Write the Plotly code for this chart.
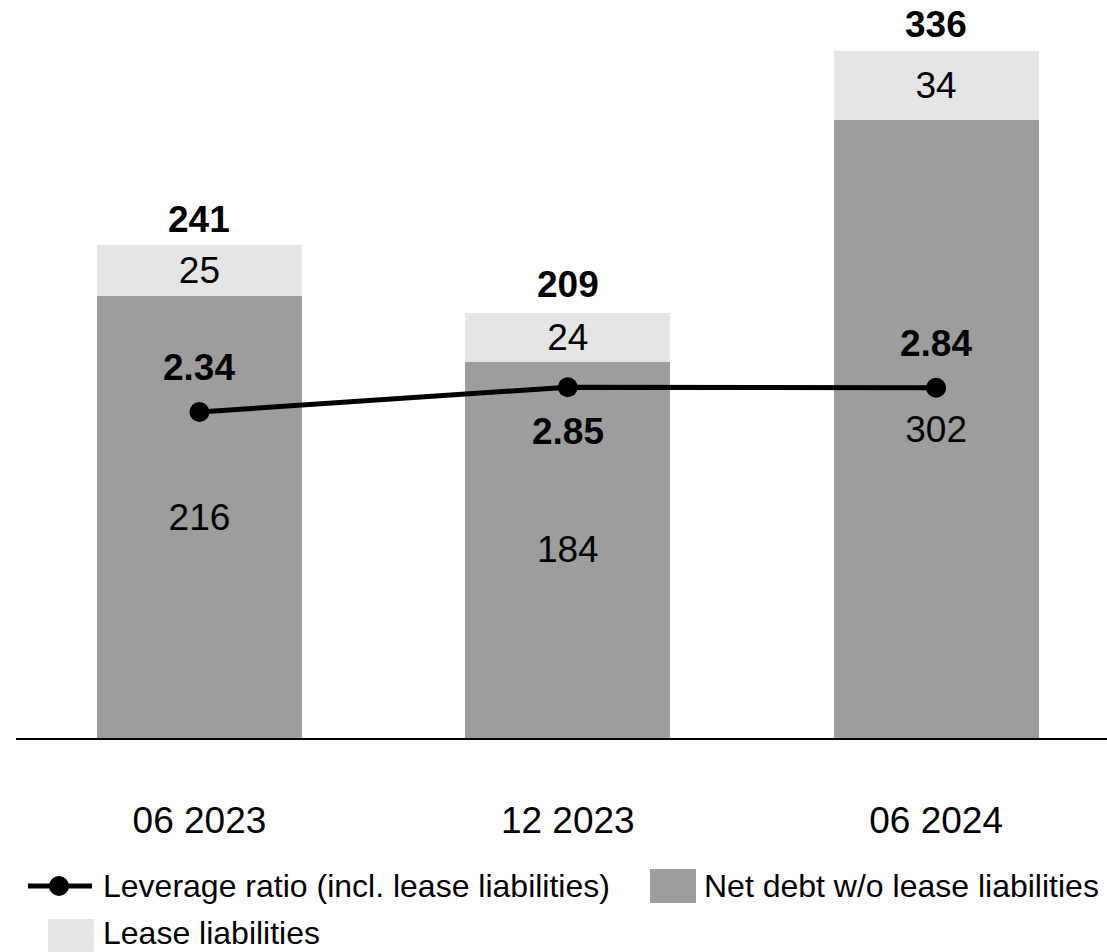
import plotly.graph_objects as go

# Net debt composition and leverage ratio by reporting date
periods = ["06 2023", "12 2023", "06 2024"]
net_debt_wo_lease = [216, 184, 302]
lease_liabilities = [25, 24, 34]
total_net_debt = [241, 209, 336]
leverage_ratio = [2.34, 2.85, 2.84]

# label placement for the leverage ratio: +1 above the point, -1 below
lev_label_side = [1, -1, 1]

DARK = "#9d9d9d"
LIGHT = "#e5e5e5"
FONT = "Arial, Liberation Sans, sans-serif"
FS = 37
LEG_FS = 32

W, H = 1107, 952
ML, MR, MT, MB = 16, 0, 0, 214
PW, PH = W - ML - MR, H - MT - MB


def px(xpix):
    return (xpix - ML) / PW


def py(ypix):
    return (H - MB - ypix) / PH


fig = go.Figure()

fig.add_trace(go.Bar(
    x=periods, y=net_debt_wo_lease, name="Net debt w/o lease liabilities",
    marker=dict(color=DARK, line=dict(width=0)),
    text=net_debt_wo_lease, texttemplate="%{text}", textposition="inside",
    insidetextanchor="middle", constraintext="none",
    textfont=dict(family=FONT, size=FS, color="black"),
    showlegend=False, hoverinfo="skip",
))
fig.add_trace(go.Bar(
    x=periods, y=lease_liabilities, name="Lease liabilities",
    marker=dict(color=LIGHT, line=dict(width=0)),
    text=lease_liabilities, texttemplate="%{text}", textposition="inside",
    insidetextanchor="middle", constraintext="none",
    textfont=dict(family=FONT, size=FS, color="black"),
    showlegend=False, hoverinfo="skip",
))
fig.add_trace(go.Scatter(
    x=periods, y=leverage_ratio, yaxis="y2", mode="lines+markers",
    name="Leverage ratio (incl. lease liabilities)",
    line=dict(color="black", width=5),
    marker=dict(color="black", size=20),
    showlegend=False, hoverinfo="skip",
))

annotations = []
# totals above each stacked bar
for p, t in zip(periods, total_net_debt):
    annotations.append(dict(
        x=p, y=t, xref="x", yref="y", text=str(t), showarrow=False,
        yanchor="middle", yshift=26,
        font=dict(family=FONT, size=FS, color="black", weight="bold"),
    ))
# leverage ratio values
for p, v, s in zip(periods, leverage_ratio, lev_label_side):
    annotations.append(dict(
        x=p, y=v, xref="x", yref="y2", text=f"{v:.2f}", showarrow=False,
        yanchor="middle", yshift=44 * s,
        font=dict(family=FONT, size=FS, color="black", weight="bold"),
    ))

# custom legend
shapes = []
row1, row2 = 886, 936
shapes.append(dict(type="line", xref="paper", yref="paper",
                   x0=px(28), x1=px(92), y0=py(row1), y1=py(row1),
                   line=dict(color="black", width=5)))
shapes.append(dict(type="circle", xref="paper", yref="paper",
                   x0=px(59 - 10), x1=px(59 + 10), y0=py(row1 + 10), y1=py(row1 - 10),
                   fillcolor="black", line=dict(width=0)))
shapes.append(dict(type="rect", xref="paper", yref="paper",
                   x0=px(650), x1=px(696), y0=py(row1 + 17), y1=py(row1 - 17),
                   fillcolor=DARK, line=dict(width=0)))
shapes.append(dict(type="rect", xref="paper", yref="paper",
                   x0=px(48), x1=px(94), y0=py(row2 + 17), y1=py(row2 - 17),
                   fillcolor=LIGHT, line=dict(width=0)))
legend_texts = [
    (102, row1, "middle", "Leverage ratio (incl. lease liabilities)"),
    (703, row1, "middle", "Net debt w/o lease liabilities"),
    (102, H, "bottom", "Lease liabilities"),
]
for xp, yp, ya, txt in legend_texts:
    annotations.append(dict(
        x=px(xp), y=py(yp), xref="paper", yref="paper", text=txt,
        showarrow=False, xanchor="left", yanchor=ya, borderpad=0,
        font=dict(family=FONT, size=LEG_FS, color="black"),
    ))

fig.update_layout(
    width=W, height=H,
    margin=dict(l=ML, r=MR, t=MT, b=MB, pad=0),
    paper_bgcolor="white", plot_bgcolor="white",
    barmode="stack", bargap=0.443,
    showlegend=False,
    xaxis=dict(
        type="category", range=[-0.498, 2.464],
        showline=True, linecolor="black", linewidth=2,
        showgrid=False, zeroline=False, ticks="",
        ticklabelstandoff=49,
        tickfont=dict(family=FONT, size=FS, color="black"),
        fixedrange=True,
    ),
    yaxis=dict(range=[0, 360.9], visible=False, showgrid=False, zeroline=False),
    yaxis2=dict(range=[-4.382, 10.834], overlaying="y", side="right",
                visible=False, showgrid=False, zeroline=False),
    shapes=shapes,
    annotations=annotations,
)

fig.write_html("out.html")
